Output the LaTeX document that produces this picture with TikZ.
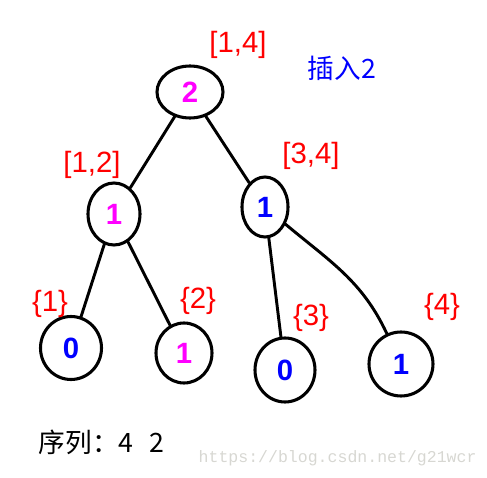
\documentclass[tikz,border=0pt]{standalone}
\usepackage{fontspec}
\setmainfont{Liberation Sans}
\newfontfamily\cjk{Noto Sans CJK SC}
\newfontfamily\wmfont{Liberation Mono}
\usetikzlibrary{shapes.geometric}
\definecolor{mag}{RGB}{255,0,255}
\definecolor{blu}{RGB}{0,0,255}
\definecolor{rd}{RGB}{255,0,0}
\definecolor{wm}{RGB}{215,215,210}
\begin{document}
\begin{tikzpicture}[x=0.75pt,y=-0.75pt,
  tnode/.style={draw=black,line width=2.3pt,ellipse,inner sep=0pt},
  edge/.style={draw=black,line width=2.2pt,line cap=round},
  dig/.style={font=\fontsize{22}{22}\selectfont\bfseries},
  lab/.style={text=rd,font=\fontsize{22}{22}\selectfont},
]
\useasboundingbox (0,0) rectangle (487,478);
\node[tnode,minimum width={66*0.75pt},minimum height={52*0.75pt},text=mag,dig] (root) at (190,92) {2};
\node[tnode,minimum width={52*0.75pt},minimum height={62*0.75pt},text=mag,dig] (l) at (114,214) {1};
\node[tnode,minimum width={46*0.75pt},minimum height={60*0.75pt},text=blu,dig] (r) at (265,207) {1};
\node[tnode,minimum width={61*0.75pt},minimum height={63*0.75pt},text=blu,dig] (a) at (71,348) {0};
\node[tnode,minimum width={56*0.75pt},minimum height={60*0.75pt},text=mag,dig] (b) at (184,353) {1};
\node[tnode,minimum width={60*0.75pt},minimum height={64*0.75pt},text=blu,dig] (c) at (285,370) {0};
\node[tnode,minimum width={64*0.75pt},minimum height={64*0.75pt},text=blu,dig] (d) at (401,364) {1};

\draw[edge] (root) -- (l);
\draw[edge] (root) -- (r);
\draw[edge] (l) -- (a);
\draw[edge] (l) -- (b);
\draw[edge] (r) -- (c);
\draw[edge] (r) to[out=-40,in=115] (d);

\node[lab] (t1) at (238,45) {[1,4]};
\node[lab] (t2) at (92,165) {[1,2]};
\node[lab] (t3) at (311,156) {[3,4]};
\node[lab] (t4) at (50,304) {\{1\}};
\node[lab] (t5) at (198,301) {\{2\}};
\node[lab] (t6) at (311,318) {\{3\}};
\node[lab] (t7) at (442,307) {\{4\}};

\node[text=blu,font=\cjk\fontsize{20}{20}\selectfont] (ins) at (342,68) {插入2};
\node[anchor=west,font=\cjk\fontsize{20}{20}\selectfont] (seq) at (34,442) {序列：4\hspace{0.6em}2};
\node[anchor=west,text=wm,font=\wmfont\fontsize{12.4}{12.4}\selectfont] (wmk) at (194,458) {https://blog.csdn.net/g21wcr};
\end{tikzpicture}
\end{document}
